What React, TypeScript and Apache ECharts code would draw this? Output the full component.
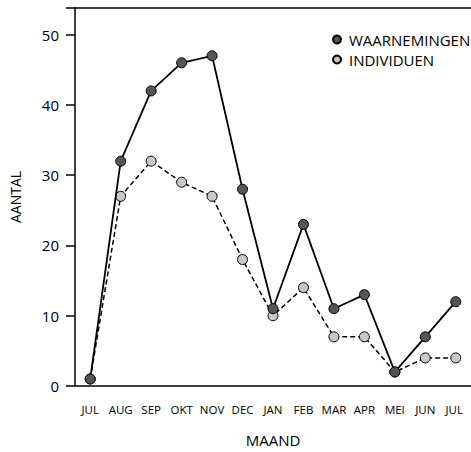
import React, { useEffect, useRef } from "react";
import * as echarts from "echarts";

const months = ["JUL", "AUG", "SEP", "OKT", "NOV", "DEC", "JAN", "FEB", "MAR", "APR", "MEI", "JUN", "JUL "];
const waarnemingen = [1, 32, 42, 46, 47, 28, 11, 23, 11, 13, 2, 7, 12];
const individuen = [1, 27, 32, 29, 27, 18, 10, 14, 7, 7, 2, 4, 4];
const yTicks = [0, 10, 20, 30, 40, 50];

const FONT = "'Open Sans', 'Noto Sans', sans-serif";

export default function App() {
  const ref = useRef<HTMLDivElement>(null);
  useEffect(() => {
    document.body.style.margin = "0";
    document.body.style.overflow = "hidden";
    const chart = echarts.init(ref.current!, null, { renderer: "svg" });
    chart.setOption({
      animation: false,
      textStyle: { fontFamily: FONT, color: "#000" },
      grid: { left: 66, top: 8, right: 0, bottom: 64, containLabel: false },
      legend: {
        orient: "vertical",
        left: 327,
        top: 27,
        itemGap: 5,
        itemWidth: 8,
        itemHeight: 8,
        icon: "circle",
        textStyle: { fontFamily: FONT, fontSize: 15, color: "#000", padding: [0, 0, 0, 3] },
        data: ["WAARNEMINGEN", "INDIVIDUEN"],
      },
      xAxis: [
        {
          type: "category",
          data: months,
          boundaryGap: true,
          name: "MAAND",
          nameLocation: "middle",
          nameGap: 46,
          nameTextStyle: { fontFamily: FONT, fontSize: 15, color: "#000" },
          axisLine: { lineStyle: { color: "#000", width: 1.5 } },
          axisTick: { length: 8, lineStyle: { color: "#000", width: 1.5 } },
          axisLabel: { fontFamily: FONT, fontSize: 11.5, color: "#000", margin: 17, interval: 0 },
          splitLine: { show: false },
        },
        {
          type: "category",
          position: "top",
          data: months,
          axisLine: { lineStyle: { color: "#000", width: 1.5 } },
          axisTick: { show: false },
          axisLabel: { show: false },
        },
      ],
      yAxis: {
        type: "value",
        min: 0,
        max: 53.8,
        interval: 10,
        name: "AANTAL",
        nameLocation: "middle",
        nameGap: 53,
        nameTextStyle: { fontFamily: FONT, fontSize: 14, color: "#000" },
        axisLine: { show: true, lineStyle: { color: "#000", width: 1.5 } },
        axisTick: { show: true, length: 9, lineStyle: { color: "#000", width: 1.5 } },
        axisLabel: {
          fontFamily: FONT,
          fontSize: 15,
          color: "#000",
          margin: 16,
          formatter: (v: number) => (yTicks.includes(v) ? String(v) : ""),
        },
        splitLine: { show: false },
      },
      series: [
        {
          name: "INDIVIDUEN",
          type: "line",
          data: individuen,
          z: 2,
          symbol: "circle",
          symbolSize: 10,
          lineStyle: { color: "#000", width: 1.5, type: [5, 3] },
          itemStyle: { color: "#c8c8c8", borderColor: "#000", borderWidth: 1 },
        },
        {
          name: "WAARNEMINGEN",
          type: "line",
          data: waarnemingen,
          z: 3,
          symbol: "circle",
          symbolSize: 10,
          lineStyle: { color: "#000", width: 1.8 },
          itemStyle: { color: "#555555", borderColor: "#000", borderWidth: 1 },
        },
      ],
    });
    return () => chart.dispose();
  }, []);
  return <div ref={ref} style={{ width: 471, height: 452 }} />;
}
